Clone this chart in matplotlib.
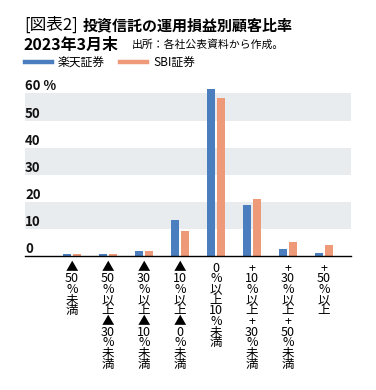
import matplotlib
matplotlib.use("Agg")
import matplotlib.pyplot as plt
from matplotlib.lines import Line2D
import matplotlib.transforms as mtransforms
import numpy as np

plt.rcParams['font.family'] = ['Noto Sans CJK JP', 'DejaVu Sans']

categories = ["▲\n50\n%\n未\n満",
              "▲\n50\n%\n以\n上\n▲\n30\n%\n未\n満",
              "▲\n30\n%\n以\n上\n▲\n10\n%\n未\n満",
              "▲\n10\n%\n以\n上\n▲\n0\n%\n未\n満",
              "0\n%\n以\n上\n10\n%\n未\n満",
              "+\n10\n%\n以\n上\n+\n30\n%\n未\n満",
              "+\n30\n%\n以\n上\n+\n50\n%\n未\n満",
              "+\n50\n%\n以\n上"]
rakuten = [0.8, 0.7, 1.8, 13.2, 61.7, 18.8, 2.6, 1.2]
sbi = [0.9, 0.9, 2.0, 9.1, 58.2, 21.0, 5.2, 3.9]
series_names = ["楽天証券", "SBI証券"]
ytick_labels = ["0", "10", "20", "30", "40", "50", "60 %"]
ytick_values = [0, 10, 20, 30, 40, 50, 60]

BLUE = "#4a7ebf"
ORANGE = "#ee9a78"
GREY = "#e9ecef"

W, H = 376, 390
fig = plt.figure(figsize=(W / 100, H / 100), dpi=100)
ymax = 63
ax_top = 256 - 2.71 * ymax
ax = fig.add_axes([25 / W, 1 - 256 / H, (351 - 25) / W, (256 - ax_top) / H])

x = np.arange(len(categories))
bw = 0.22
for lo in (10, 30, 50):
    ax.axhspan(lo, lo + 10, color=GREY, zorder=0, lw=0)
ax.bar(x - bw / 2 - 0.03, rakuten, bw, color=BLUE, zorder=2)
ax.bar(x + bw / 2 + 0.03, sbi, bw, color=ORANGE, zorder=2)

ax.set_xlim(-1.3, 7.75)
ax.set_ylim(0, ymax)
for s in ("top", "right", "left"):
    ax.spines[s].set_visible(False)
ax.spines["bottom"].set_color("black")
ax.spines["bottom"].set_linewidth(1.0)
ax.set_yticks([])
ax.set_xticks(x)
ax.set_xticklabels(categories, fontsize=9, linespacing=0.77, va="top")
ax.tick_params(axis="x", length=0, pad=4)

off = mtransforms.offset_copy(ax.transData, fig=fig, x=0, y=0, units="points")
for v, lab in zip(ytick_values, ytick_labels):
    ax.text(-1.3, v, lab, transform=off, fontsize=9.5, fontweight="bold",
            ha="left", va="bottom", color="#111111")

# title
fig.text(24 / W, 1 - 25 / H, "[図表2]", fontsize=12, ha="left", va="center")
fig.text(83 / W, 1 - 25 / H, "投資信託の運用損益別顧客比率", fontsize=10.8,
         fontweight="bold", ha="left", va="center")
fig.text(24 / W, 1 - 45 / H, "2023年3月末", fontsize=11.5, fontweight="bold",
         ha="left", va="center")
fig.text(132 / W, 1 - 45 / H, "出所：各社公表資料から作成。", fontsize=7.8,
         ha="left", va="center")

# legend
ly = 1 - 62 / H
fig.add_artist(Line2D([25 / W, 52 / W], [ly, ly], color=BLUE, lw=3.2))
fig.text(58 / W, ly, series_names[0], fontsize=8.5, ha="left", va="center")
fig.add_artist(Line2D([120 / W, 147 / W], [ly, ly], color=ORANGE, lw=3.2))
fig.text(153 / W, ly, series_names[1], fontsize=8.5, ha="left", va="center")

fig.savefig("out.png", dpi=100)
